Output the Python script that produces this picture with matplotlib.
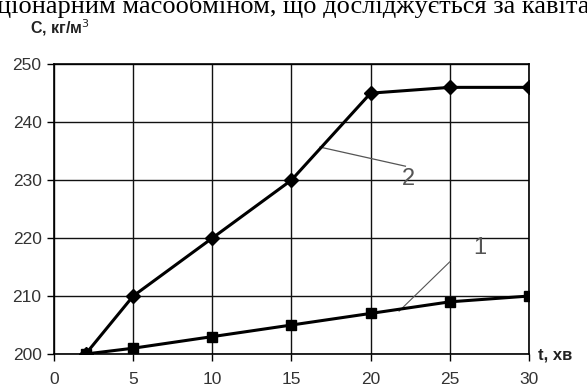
import matplotlib.pyplot as plt

# concentration vs time for two regimes
t = [2, 5, 10, 15, 20, 25, 30]
c_curve1 = [200, 201, 203, 205, 207, 209, 210]
c_curve2 = [200, 210, 220, 230, 245, 246, 246]

x_ticks = [0, 5, 10, 15, 20, 25, 30]
y_ticks = [200, 210, 220, 230, 240, 250]

fig = plt.figure(figsize=(5.87, 3.88), dpi=100)
ax = fig.add_axes([0.0920, 0.0876, 0.809, 0.747])

ax.plot(t, c_curve1, color='black', lw=2.2, marker='s', ms=7, zorder=3)
ax.plot(t, c_curve2, color='black', lw=2.2, marker='D', ms=7, zorder=3)

ax.set_xlim(0, 30)
ax.set_ylim(200, 250)
ax.set_xticks(x_ticks)
ax.set_yticks(y_ticks)
ax.grid(True, color='#111111', lw=1)
for s in ax.spines.values():
    s.set_linewidth(1.2)
ax.tick_params(direction='out', length=5, width=1, labelsize=12.5, labelcolor='#333333')
ax.tick_params(axis='x', pad=8)
ax.tick_params(axis='y', pad=4)
for lab in ax.get_xticklabels() + ax.get_yticklabels():
    lab.set_fontfamily('Liberation Sans')

# curve labels with leader lines
ax.plot([16.8, 22.2], [235.7, 232.4], color='#555555', lw=0.9, clip_on=False)
ax.text(22.4, 230.2, '2', fontsize=17, color='#555555', ha='center', va='center',
        fontfamily='Liberation Sans')
ax.plot([21.8, 25.0], [207.4, 215.9], color='#555555', lw=0.8, clip_on=False)
ax.text(26.9, 218.3, '1', fontsize=17, color='#555555', ha='center', va='center',
        fontfamily='Liberation Sans')

# axis captions
fig.text(30 / 587, 1 - 33 / 388, 'C, кг/м$^3$', fontsize=11.5, fontweight='bold',
         fontfamily='Liberation Sans', va='baseline', color='#222222')
fig.text(538 / 587, 1 - 359 / 388, 't, хв', fontsize=12, fontweight='bold',
         fontfamily='Liberation Sans', va='baseline', color='#222222')

# body text line above the chart
fig.text(-3 / 587, 1 - 13 / 388, 'ціонарним масообміном, що досліджується за кавіта',
         fontsize=19, fontfamily='Liberation Serif', va='baseline')

fig.savefig('out.png', dpi=100)
